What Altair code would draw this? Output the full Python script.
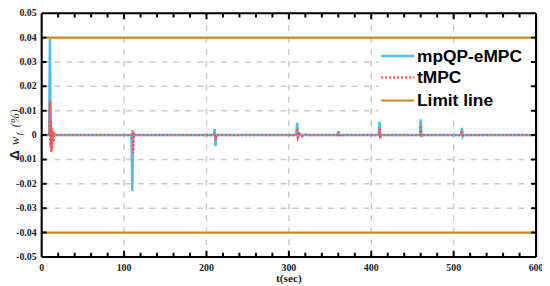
import altair as alt
import pandas as pd

# ---- data ----
blue_t = [0, 9, 10, 11, 12, 13, 109, 110, 111, 112, 209, 210, 211, 212, 309, 310, 311, 312,
          359, 360, 361, 409, 410, 411, 412, 459, 460, 461, 462, 509, 510, 511, 512, 600]
blue_v = [0, 0, 0.0395, 0.001, -0.0005, 0, 0, -0.023, 0.0015, 0, 0, 0.0025, -0.0045, 0,
          0, 0.005, -0.001, 0, 0, 0.0015, 0, 0, 0.0055, -0.001, 0, 0, 0.0065, -0.0008, 0,
          0, 0.003, -0.0005, 0, 0]

red_t = [0, 9, 10, 10.5, 11, 11.5, 12, 12.5, 13, 14, 15, 16, 109, 110, 111, 112, 113,
         209, 210, 211, 212, 309, 310, 311, 313, 316, 320, 325, 359, 360, 361,
         409, 410, 411, 412, 459, 460, 461, 462, 509, 510, 511, 600]
red_v = [0, 0, 0.014, -0.005, 0.006, -0.007, 0.003, -0.006, 0.002, -0.003, 0.001, 0,
         0, 0.002, -0.0075, 0.001, 0, 0, 0.001, -0.002, 0, 0, 0.003, -0.001, 0.0005,
         -0.0005, 0.0003, 0, 0, 0.0015, 0, 0, 0.003, -0.0005, 0, 0, 0.004, -0.0005, 0,
         0, 0.002, 0, 0]

limit_t = [0, 600]
limit_upper = 0.04
limit_lower = -0.04

series_names = ["mpQP-eMPC", "tMPC", "Limit line"]
series_colors = ["#4DBEEE", "#FF5555", "#C8891E"]

x_labels = [0, 100, 200, 300, 400, 500, 600]
x_grid = [100, 200, 300, 400, 500]
x_minor = list(range(20, 600, 20))
y_ticks = [-0.04, -0.03, -0.02, -0.01, 0, 0.01, 0.02, 0.03, 0.04]
y_grid = [-0.03, -0.02, -0.01, 0.01, 0.02, 0.03]
y_labels = [-0.05, -0.04, -0.03, -0.02, -0.01, 0, 0.01, 0.02, 0.03, 0.04, 0.05]
y_label_text = ["-0.05", "-0.04", "-0.03", "-0.02", "-0.01", "0",
                "0.01", "0.02", "0.03", "0.04", "0.05"]
x_title = "t(sec)"

# legend layout (in data units of the plot)
leg_rows_v = [0.0325, 0.0237, 0.0142]
leg_sym_t = [412, 452]
leg_text_t = 455.5
leg_box_t = [409, 591]
leg_box_v = [0.0088, 0.0368]

W, H = 499, 246
X0, X1 = 0, 600
Y0, Y1 = -0.05, 0.05

# style categories: the three series plus the frame and the tick marks
cats = series_names + ["frame", "tick"]
cat_colors = series_colors + ["#000000", "#000000"]
cat_dash = [[1, 0], [2, 2], [1, 0], [1, 0], [1, 0]]
cat_width = [2.5, 2, 2.5, 2.2, 1.5]

df_blue = pd.DataFrame({"t": blue_t, "v": blue_v, "s": series_names[0], "g": "b", "o": range(len(blue_t))})
df_red = pd.DataFrame({"t": red_t, "v": red_v, "s": series_names[1], "g": "r", "o": range(len(red_t))})
df_lim = pd.concat([
    pd.DataFrame({"t": limit_t, "v": [limit_upper] * 2, "s": series_names[2], "g": "u", "o": [0, 1]}),
    pd.DataFrame({"t": limit_t, "v": [limit_lower] * 2, "s": series_names[2], "g": "l", "o": [0, 1]}),
])

xscale = alt.Scale(domain=[X0, X1], nice=False, zero=False)
yscale = alt.Scale(domain=[Y0, Y1], nice=False, zero=False)

color = alt.Color("s:N", scale=alt.Scale(domain=cats, range=cat_colors), legend=None)
dash = alt.StrokeDash("s:N", scale=alt.Scale(domain=cats, range=cat_dash), legend=None)
swidth = alt.StrokeWidth("s:N", scale=alt.Scale(domain=cats, range=cat_width), legend=None)


def X(field="t"):
    return alt.X(f"{field}:Q", scale=xscale, axis=None)


def Y(field="v"):
    return alt.Y(f"{field}:Q", scale=yscale, axis=None)


# dashed grid lines
grid_style = dict(color="#cccccc", strokeWidth=1.5, strokeDash=[6, 6])
gx = alt.Chart(pd.DataFrame({"t": x_grid})).mark_rule(**grid_style).encode(x=X())
gy = alt.Chart(pd.DataFrame({"v": y_grid})).mark_rule(**grid_style).encode(y=Y())


def line_layer(df):
    return alt.Chart(df).mark_line().encode(
        x=X(), y=Y(), color=color, strokeDash=dash, strokeWidth=swidth,
        detail="g:N", order="o:Q")


blue = line_layer(df_blue)
red = line_layer(df_red)
lim = line_layer(df_lim)

# inside tick marks drawn as short line segments (lengths in data units)
ytick_len = 0.0017
ytick_len_maj = 0.0025
xtick_len = 6
tick_rows = []
k = 0
for v in x_minor:
    ln = ytick_len_maj if v % 100 == 0 else ytick_len
    for base, sgn in ((Y0, 1), (Y1, -1)):
        tick_rows.append({"t": v, "v": base, "g": f"k{k}", "o": 0, "s": "tick"})
        tick_rows.append({"t": v, "v": base + sgn * ln, "g": f"k{k}", "o": 1, "s": "tick"})
        k += 1
for v in y_ticks:
    for base, sgn in ((X0, 1), (X1, -1)):
        tick_rows.append({"t": base, "v": v, "g": f"k{k}", "o": 0, "s": "tick"})
        tick_rows.append({"t": base + sgn * xtick_len, "v": v, "g": f"k{k}", "o": 1, "s": "tick"})
        k += 1
ticks = line_layer(pd.DataFrame(tick_rows))

# frame as a closed line path
df_frame = pd.DataFrame({"t": [X0, X1, X1, X0, X0], "v": [Y0, Y0, Y1, Y1, Y0],
                         "g": "f", "o": range(5), "s": "frame"})
frame = line_layer(df_frame)

# tick labels and axis title as text
lab_style = dict(font="Liberation Serif", fontWeight="bold", fontSize=10, color="#222")
df_ylab = pd.DataFrame({"v": y_labels, "lab": y_label_text, "t": [X0] * len(y_labels)})
ylab = alt.Chart(df_ylab).mark_text(align="right", baseline="middle", dx=-5,
                                    **lab_style).encode(x=X(), y=Y(), text="lab:N")
df_xlab = pd.DataFrame({"t": x_labels, "lab": [str(v) for v in x_labels],
                        "v": [Y0] * len(x_labels)})
xlab = alt.Chart(df_xlab).mark_text(align="center", baseline="middle", dy=11,
                                    **lab_style).encode(x=X(), y=Y(), text="lab:N")
df_xtitle = pd.DataFrame({"t": [300], "v": [Y0], "lab": [x_title]})
xtitle = alt.Chart(df_xtitle).mark_text(
    align="center", baseline="middle", dy=22, font="Liberation Serif",
    fontWeight="bold", fontSize=11.5, color="#222").encode(x=X(), y=Y(), text="lab:N")

# legend built from marks
df_legbox = pd.DataFrame({"t": [leg_box_t[0]], "t2": [leg_box_t[1]],
                          "v": [leg_box_v[0]], "v2": [leg_box_v[1]]})
legbox = alt.Chart(df_legbox).mark_rect(color="white").encode(
    x=X(), x2=alt.X2("t2:Q"), y=Y(), y2=alt.Y2("v2:Q"))
leg_rows = []
for i, name in enumerate(series_names):
    leg_rows.append({"t": leg_sym_t[0], "v": leg_rows_v[i], "s": name, "g": f"L{i}", "o": 0})
    leg_rows.append({"t": leg_sym_t[1], "v": leg_rows_v[i], "s": name, "g": f"L{i}", "o": 1})
legsym = line_layer(pd.DataFrame(leg_rows))
df_legtxt = pd.DataFrame({"t": [leg_text_t] * 3, "v": leg_rows_v, "s": series_names})
legtxt = alt.Chart(df_legtxt).mark_text(
    font="Liberation Sans", fontWeight="bold", fontSize=17.5, color="black",
    align="left", baseline="middle", dy=1).encode(x=X(), y=Y(), text="s:N")

# y axis title pieces: "Δ w_f(%)"
t_delta = alt.Chart(pd.DataFrame({"txt": ["Δ"]})).mark_text(
    angle=270, font="Liberation Sans", fontWeight="bold", fontSize=13, color="#222",
    align="center", baseline="middle").encode(
    text="txt:N", x=alt.value(-27), y=alt.value(143))
t_w = alt.Chart(pd.DataFrame({"txt": ["w"]})).mark_text(
    angle=270, font="Liberation Serif", fontStyle="italic", fontSize=13, color="#222",
    align="center", baseline="middle").encode(
    text="txt:N", x=alt.value(-27), y=alt.value(129))
t_f = alt.Chart(pd.DataFrame({"txt": ["f"]})).mark_text(
    angle=270, font="Liberation Serif", fontStyle="italic", fontSize=9, color="#222",
    align="center", baseline="middle").encode(
    text="txt:N", x=alt.value(-23), y=alt.value(122))
t_pct = alt.Chart(pd.DataFrame({"txt": ["(%)"]})).mark_text(
    angle=270, font="Liberation Serif", fontStyle="italic", fontSize=12, color="#222",
    align="center", baseline="middle").encode(
    text="txt:N", x=alt.value(-27), y=alt.value(106))

chart = alt.layer(
    gx, gy, blue, red, lim, ticks, frame, legbox, legsym, legtxt,
    ylab, xlab, xtitle, t_delta, t_w, t_f, t_pct,
).properties(
    width=W, height=H, background="white",
    view=alt.ViewBackground(strokeOpacity=0),
    autosize=alt.AutoSizeParams(type="none"),
    padding={"left": 34, "top": 4, "right": 6, "bottom": 27},
)

chart.save("out.html", embed_options={"renderer": "svg", "actions": False})
